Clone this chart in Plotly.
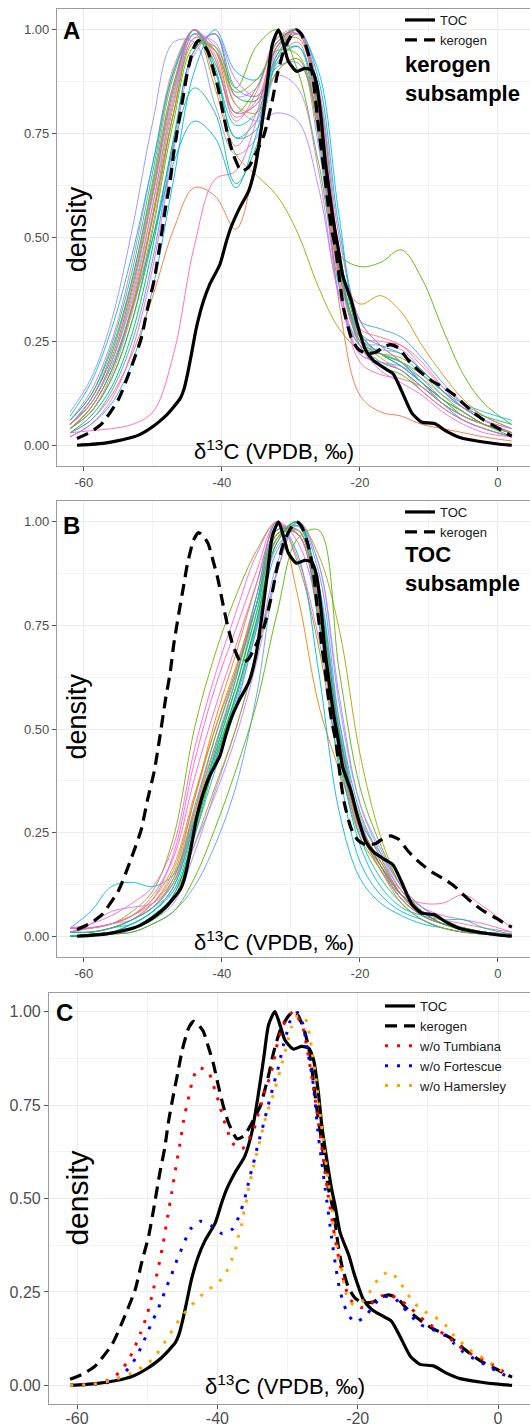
import plotly.graph_objects as go

# ---------------- data ----------------
X_TICK_VALS = [-60, -40, -20, 0]
X_TICK_TEXT = ["-60", "-40", "-20", "0"]
X_MINOR = [-50, -30, -10]
Y_TICK_VALS = [0, 0.25, 0.5, 0.75, 1.0]
Y_TICK_TEXT = ["0.00", "0.25", "0.50", "0.75", "1.00"]
Y_MINOR = [0.125, 0.375, 0.625, 0.875]

TOC_X = [-61, -59, -57, -55, -53, -52, -51, -50, -49, -48, -47, -46, -45.5, -45, -44.4, -43.7, -42.7,
         -41.8, -40.3, -39.4, -38.7, -37.5, -36.1, -35.1, -34.2, -33.4, -32.7, -31.8, -31, -30.4,
         -29.2, -28, -27, -26.3, -25.6, -25.1, -24.4, -23.7, -23.2, -22.5, -21.3, -20.4, -19.2, -18,
         -16.4, -15.2, -14, -12.5, -11.1, -9.2, -7.5, -5.4, -2.6, 0, 2]
TOC_Y = [0.0, 0.002, 0.005, 0.011, 0.019, 0.025, 0.034, 0.045, 0.058, 0.073, 0.092, 0.114, 0.135, 0.17,
         0.221, 0.283, 0.346, 0.386, 0.435, 0.488, 0.524, 0.569, 0.613, 0.676, 0.774, 0.875, 0.965,
         1.0, 0.96, 0.925, 0.90, 0.907, 0.903, 0.872, 0.783, 0.693, 0.604, 0.524, 0.479, 0.408, 0.35,
         0.292, 0.23, 0.203, 0.185, 0.172, 0.132, 0.078, 0.056, 0.052, 0.034, 0.018, 0.009, 0.003, 0.0]

KER_X = [-61, -59, -57.4, -55, -53.2, -51.7, -50.8, -49.8, -49.1, -48.2, -47.5, -47, -46.3, -45.65, -45,
         -44.1, -43.4, -42.7, -42, -41.3, -40.6, -39.9, -39.15, -38.4, -37.2, -36.2, -35.35, -33.9,
         -32.7, -32, -31, -30, -29.2, -28.5, -27.5, -26.8, -26.1, -25.6, -25.1, -24.6, -24.1, -23.5,
         -22.8, -22.3, -21.3, -20.3, -19.2, -17.8, -16.5, -15.6, -14.4, -13, -11.5, -9.5, -8, -6.4,
         -5, -3.5, -2, -0.2, 1, 2]
KER_Y = [0.016, 0.032, 0.052, 0.11, 0.185, 0.257, 0.328, 0.399, 0.47, 0.569, 0.636, 0.702, 0.774, 0.836,
         0.898, 0.956, 0.974, 0.965, 0.947, 0.907, 0.863, 0.805, 0.747, 0.702, 0.66, 0.668, 0.693,
         0.747, 0.83, 0.89, 0.952, 0.985, 1.0, 0.99, 0.943, 0.885, 0.78, 0.711, 0.649, 0.578, 0.52,
         0.471, 0.377, 0.324, 0.261, 0.232, 0.221, 0.223, 0.237, 0.242, 0.234, 0.205, 0.18, 0.154,
         0.14, 0.122, 0.1, 0.078, 0.06, 0.043, 0.031, 0.022]

TUMB_X = [-61, -58, -55.5, -54, -53, -52, -51, -50, -49.2, -48.4, -47.7, -47.1, -46.5, -45.9, -45.3,
          -44.7, -44.3, -43.9, -43.5, -42.7, -41.3, -40.7, -40.1, -39.6, -39.1, -38.5, -37.8, -36.5,
          -35.5, -34.7, -34.2, -33.7, -33.2, -32.6, -32.1, -31.4, -30.7, -30, -29.2, -27.9, -27.2,
          -26.5, -25.7, -25, -24.3, -23.5, -22.9, -21.7, -21, -19.5, -18, -16.5, -15.2, -13.1, -10.4,
          -7.5, -4.6, -1, 1.7]
TUMB_Y = [0.0, 0.003, 0.014, 0.034, 0.058, 0.092, 0.138, 0.19, 0.25, 0.316, 0.383, 0.451, 0.517, 0.585,
          0.652, 0.72, 0.753, 0.787, 0.82, 0.85, 0.84, 0.81, 0.776, 0.744, 0.711, 0.678, 0.647, 0.632,
          0.66, 0.69, 0.724, 0.756, 0.789, 0.821, 0.854, 0.919, 0.96, 0.983, 1.0, 0.963, 0.9, 0.82,
          0.72, 0.62, 0.52, 0.424, 0.359, 0.259, 0.228, 0.208, 0.22, 0.24, 0.24, 0.217, 0.172, 0.134,
          0.092, 0.058, 0.025]

FORT_X = [-61, -58, -55.5, -53.9, -52.7, -51.6, -50.8, -50.1, -49.4, -48.6, -47.9, -47.3, -46.6, -46,
          -45.3, -44.6, -43.8, -42.4, -40.8, -39.3, -37.8, -37, -36.4, -35.9, -35.5, -35.06, -34.6,
          -34.2, -33.7, -33.25, -32.8, -32.35, -31.9, -31.4, -31, -30.6, -30.1, -29.6, -28.55, -27.8,
          -27.2, -26.55, -26.3, -25.6, -25.1, -24.65, -23.7, -23.2, -22.6, -22.1, -21.5, -20.4, -18.9,
          -17.8, -16.5, -14.8, -13.6, -11.1, -9.4, -7.65, -6.3, -4.95, -3.4, -1.9, -0.2, 1.4]
FORT_Y = [0.0, 0.002, 0.008, 0.02, 0.045, 0.074, 0.105, 0.135, 0.166, 0.198, 0.23, 0.261, 0.292, 0.324,
          0.356, 0.388, 0.419, 0.439, 0.426, 0.406, 0.419, 0.449, 0.481, 0.514, 0.548, 0.581, 0.613,
          0.647, 0.679, 0.713, 0.746, 0.778, 0.811, 0.844, 0.877, 0.91, 0.943, 0.976, 0.998, 0.966,
          0.9, 0.834, 0.8, 0.667, 0.595, 0.529, 0.393, 0.326, 0.259, 0.225, 0.194, 0.169, 0.185,
          0.212, 0.237, 0.234, 0.21, 0.163, 0.15, 0.134, 0.112, 0.089, 0.071, 0.056, 0.038, 0.023]

HAM_X = [-61, -58, -55.3, -52.2, -50.55, -49.2, -48.1, -47.1, -46.1, -45.1, -43.9, -42.7, -41.2, -39.8,
         -38.7, -38, -37.4, -37, -36.5, -36.2, -35.8, -35.5, -35.1, -34.7, -34.25, -33.8, -33.4,
         -32.9, -32.3, -31.75, -31.25, -30.8, -30.1, -29.4, -28.5, -27.5, -27, -26.7, -25.9, -25.5,
         -24.8, -24.2, -23.7, -23.4, -23, -22.8, -22.3, -22.05, -21.6, -20.6, -19.2, -18.1, -17.05,
         -15.6, -14.2, -13.3, -12.2, -11, -9.4, -7.8, -6.6, -5.4, -4.1, -2.5, -0.9, 0.5]
HAM_Y = [0.0, 0.002, 0.012, 0.033, 0.051, 0.071, 0.098, 0.127, 0.157, 0.184, 0.21, 0.234, 0.257, 0.276,
         0.304, 0.334, 0.366, 0.399, 0.432, 0.465, 0.5, 0.532, 0.565, 0.598, 0.631, 0.664, 0.697,
         0.73, 0.763, 0.796, 0.829, 0.861, 0.91, 0.961, 0.99, 0.983, 0.952, 0.918, 0.814, 0.747,
         0.64, 0.546, 0.478, 0.413, 0.38, 0.346, 0.313, 0.279, 0.243, 0.215, 0.227, 0.255, 0.285,
         0.304, 0.283, 0.255, 0.227, 0.203, 0.187, 0.168, 0.139, 0.118, 0.096, 0.077, 0.058, 0.038]

# bootstrap density curves (kerogen subsample, panel A), sampled at GRID
GRID = [-62, -59, -56, -53, -50, -47, -44, -41, -38, -35, -32, -29, -26, -23, -20, -17, -14, -11, -8, -5, -2, 2]
A01 = [0.06, 0.12, 0.24, 0.42, 0.66, 0.90, 1.00, 0.90, 0.74, 0.78, 0.93, 0.96, 0.74, 0.38, 0.24, 0.22, 0.20, 0.15, 0.11, 0.08, 0.05, 0.03]
A02 = [0.04, 0.09, 0.18, 0.34, 0.56, 0.82, 0.99, 0.95, 0.80, 0.82, 0.96, 0.98, 0.80, 0.44, 0.26, 0.21, 0.18, 0.14, 0.10, 0.07, 0.05, 0.03]
A03 = [0.03, 0.07, 0.14, 0.27, 0.48, 0.74, 0.95, 0.99, 0.84, 0.83, 0.94, 1.00, 0.85, 0.47, 0.27, 0.22, 0.19, 0.15, 0.11, 0.07, 0.05, 0.02]
A04 = [0.08, 0.16, 0.30, 0.52, 0.78, 0.97, 0.97, 0.82, 0.70, 0.74, 0.90, 0.93, 0.72, 0.36, 0.22, 0.20, 0.19, 0.16, 0.12, 0.09, 0.06, 0.04]
A05 = [0.05, 0.10, 0.20, 0.37, 0.60, 0.85, 1.00, 0.93, 0.78, 0.85, 0.98, 0.99, 0.78, 0.41, 0.28, 0.26, 0.24, 0.19, 0.14, 0.10, 0.07, 0.04]
A06 = [0.02, 0.05, 0.10, 0.20, 0.38, 0.64, 0.90, 1.00, 0.90, 0.88, 0.97, 1.00, 0.88, 0.52, 0.30, 0.24, 0.20, 0.15, 0.10, 0.06, 0.04, 0.02]
A07 = [0.04, 0.08, 0.16, 0.30, 0.52, 0.78, 0.96, 0.96, 0.86, 0.96, 1.00, 0.90, 0.68, 0.46, 0.43, 0.44, 0.47, 0.40, 0.28, 0.17, 0.10, 0.05]
A08 = [0.05, 0.11, 0.22, 0.40, 0.64, 0.89, 1.00, 0.86, 0.70, 0.65, 0.60, 0.51, 0.38, 0.28, 0.23, 0.22, 0.21, 0.17, 0.12, 0.08, 0.05, 0.03]
A09 = [0.03, 0.06, 0.12, 0.22, 0.36, 0.52, 0.62, 0.60, 0.52, 0.70, 0.96, 1.00, 0.78, 0.34, 0.12, 0.08, 0.07, 0.05, 0.04, 0.03, 0.02, 0.01]
A10 = [0.03, 0.035, 0.04, 0.05, 0.08, 0.22, 0.48, 0.64, 0.66, 0.78, 0.95, 1.00, 0.86, 0.50, 0.30, 0.24, 0.20, 0.15, 0.10, 0.07, 0.05, 0.03]
A11 = [0.05, 0.10, 0.19, 0.33, 0.50, 0.68, 0.78, 0.74, 0.62, 0.75, 0.96, 1.00, 0.80, 0.42, 0.26, 0.22, 0.19, 0.15, 0.11, 0.08, 0.05, 0.03]
A12 = [0.04, 0.08, 0.16, 0.30, 0.50, 0.72, 0.86, 0.80, 0.63, 0.72, 0.93, 0.99, 0.82, 0.45, 0.25, 0.20, 0.18, 0.14, 0.10, 0.07, 0.05, 0.03]
A13 = [0.05, 0.10, 0.20, 0.36, 0.58, 0.83, 0.99, 0.96, 0.82, 0.78, 0.80, 0.78, 0.62, 0.36, 0.24, 0.23, 0.22, 0.18, 0.13, 0.09, 0.06, 0.03]
A14 = [0.06, 0.13, 0.25, 0.44, 0.68, 0.91, 1.00, 0.88, 0.72, 0.80, 0.97, 0.99, 0.80, 0.40, 0.20, 0.17, 0.16, 0.14, 0.10, 0.07, 0.05, 0.03]
A15 = [0.03, 0.06, 0.13, 0.25, 0.45, 0.73, 0.95, 0.99, 0.86, 0.84, 0.91, 0.92, 0.78, 0.46, 0.30, 0.28, 0.26, 0.21, 0.15, 0.10, 0.06, 0.03]
A16 = [0.04, 0.09, 0.18, 0.33, 0.55, 0.80, 0.98, 0.95, 0.82, 0.80, 0.90, 0.93, 0.75, 0.42, 0.34, 0.36, 0.32, 0.24, 0.17, 0.11, 0.07, 0.04]
A17 = [0.05, 0.11, 0.21, 0.38, 0.61, 0.86, 1.00, 0.92, 0.80, 0.86, 0.97, 1.00, 0.82, 0.45, 0.24, 0.19, 0.17, 0.13, 0.09, 0.06, 0.04, 0.02]
A18 = [0.07, 0.15, 0.28, 0.46, 0.68, 0.90, 0.99, 0.90, 0.77, 0.80, 0.94, 0.99, 0.90, 0.55, 0.27, 0.22, 0.20, 0.17, 0.13, 0.10, 0.08, 0.06]
A19 = [0.02, 0.05, 0.11, 0.23, 0.43, 0.71, 0.94, 0.99, 0.88, 0.84, 0.93, 0.97, 0.76, 0.39, 0.22, 0.20, 0.18, 0.13, 0.09, 0.06, 0.04, 0.02]
A20 = [0.05, 0.10, 0.20, 0.35, 0.58, 0.84, 1.00, 0.94, 0.80, 0.82, 0.89, 0.86, 0.66, 0.36, 0.25, 0.24, 0.23, 0.18, 0.13, 0.09, 0.06, 0.04]
A21 = [0.04, 0.08, 0.17, 0.32, 0.53, 0.80, 0.98, 0.97, 0.84, 0.86, 0.98, 1.00, 0.84, 0.46, 0.24, 0.18, 0.15, 0.12, 0.08, 0.05, 0.03, 0.02]
A22 = [0.06, 0.12, 0.23, 0.40, 0.63, 0.87, 1.00, 0.91, 0.74, 0.76, 0.92, 0.96, 0.80, 0.43, 0.27, 0.24, 0.22, 0.18, 0.13, 0.09, 0.07, 0.05]
A23 = [0.04, 0.09, 0.18, 0.33, 0.55, 0.80, 0.97, 0.95, 0.85, 0.88, 0.95, 0.94, 0.77, 0.42, 0.25, 0.22, 0.20, 0.16, 0.11, 0.08, 0.05, 0.03]
A24 = [0.05, 0.11, 0.22, 0.39, 0.62, 0.87, 1.00, 0.93, 0.79, 0.83, 0.96, 0.99, 0.79, 0.41, 0.26, 0.25, 0.24, 0.20, 0.14, 0.09, 0.06, 0.03]

# bootstrap density curves (TOC subsample, panel B), sampled at GRID
B01 = [0.01, 0.01, 0.02, 0.04, 0.07, 0.13, 0.30, 0.46, 0.60, 0.80, 0.98, 0.98, 0.80, 0.50, 0.28, 0.17, 0.09, 0.05, 0.03, 0.02, 0.01, 0.005]
B02 = [0.0, 0.005, 0.01, 0.03, 0.06, 0.11, 0.26, 0.42, 0.57, 0.75, 0.95, 1.00, 0.84, 0.52, 0.30, 0.19, 0.10, 0.05, 0.03, 0.015, 0.01, 0.003]
B03 = [0.02, 0.02, 0.03, 0.06, 0.11, 0.24, 0.50, 0.68, 0.82, 0.93, 1.00, 0.90, 0.70, 0.42, 0.24, 0.16, 0.09, 0.05, 0.03, 0.02, 0.01, 0.005]
B04 = [0.02, 0.06, 0.12, 0.13, 0.12, 0.15, 0.28, 0.44, 0.60, 0.78, 0.96, 0.98, 0.76, 0.40, 0.18, 0.10, 0.06, 0.04, 0.02, 0.01, 0.005, 0.0]
B05 = [0.0, 0.0, 0.01, 0.02, 0.04, 0.08, 0.20, 0.35, 0.50, 0.68, 0.90, 1.00, 0.90, 0.58, 0.32, 0.20, 0.11, 0.06, 0.03, 0.02, 0.01, 0.003]
B06 = [0.0, 0.005, 0.01, 0.02, 0.04, 0.09, 0.22, 0.36, 0.50, 0.68, 0.88, 1.00, 0.92, 0.74, 0.44, 0.24, 0.12, 0.06, 0.03, 0.015, 0.01, 0.003]
B07 = [0.01, 0.01, 0.02, 0.04, 0.08, 0.15, 0.33, 0.52, 0.68, 0.85, 1.00, 0.82, 0.56, 0.40, 0.26, 0.18, 0.10, 0.05, 0.03, 0.02, 0.01, 0.005]
B08 = [0.02, 0.02, 0.03, 0.05, 0.08, 0.14, 0.30, 0.48, 0.64, 0.82, 0.98, 0.97, 0.78, 0.47, 0.26, 0.16, 0.10, 0.08, 0.08, 0.10, 0.07, 0.02]
B09 = [0.0, 0.0, 0.005, 0.01, 0.03, 0.06, 0.12, 0.22, 0.36, 0.58, 0.88, 1.00, 0.88, 0.52, 0.28, 0.17, 0.09, 0.05, 0.03, 0.02, 0.01, 0.003]
B10 = [0.0, 0.005, 0.01, 0.02, 0.04, 0.09, 0.24, 0.42, 0.58, 0.76, 0.96, 1.00, 0.82, 0.46, 0.26, 0.17, 0.10, 0.06, 0.03, 0.02, 0.01, 0.003]
B11 = [0.0, 0.005, 0.01, 0.03, 0.06, 0.12, 0.28, 0.45, 0.62, 0.82, 1.00, 0.92, 0.64, 0.30, 0.14, 0.08, 0.05, 0.03, 0.02, 0.01, 0.005, 0.0]
B12 = [0.01, 0.03, 0.06, 0.07, 0.08, 0.13, 0.27, 0.42, 0.56, 0.74, 0.94, 0.98, 0.80, 0.48, 0.27, 0.18, 0.10, 0.06, 0.04, 0.02, 0.01, 0.005]
B13 = [0.02, 0.02, 0.03, 0.05, 0.09, 0.20, 0.42, 0.60, 0.74, 0.88, 1.00, 0.95, 0.78, 0.46, 0.26, 0.16, 0.09, 0.05, 0.03, 0.02, 0.01, 0.004]
B14 = [0.01, 0.01, 0.02, 0.04, 0.08, 0.16, 0.33, 0.50, 0.65, 0.80, 0.96, 0.99, 0.82, 0.49, 0.29, 0.19, 0.11, 0.06, 0.04, 0.03, 0.02, 0.01]
B15 = [0.0, 0.0, 0.005, 0.01, 0.03, 0.06, 0.14, 0.26, 0.40, 0.56, 0.78, 0.96, 0.98, 0.64, 0.36, 0.22, 0.12, 0.06, 0.03, 0.02, 0.01, 0.003]
B16 = [0.01, 0.01, 0.02, 0.03, 0.06, 0.12, 0.27, 0.44, 0.60, 0.78, 0.97, 0.99, 0.80, 0.46, 0.24, 0.14, 0.08, 0.04, 0.02, 0.01, 0.005, 0.0]
B17 = [0.01, 0.02, 0.03, 0.05, 0.09, 0.17, 0.34, 0.50, 0.64, 0.80, 0.97, 0.97, 0.77, 0.45, 0.27, 0.18, 0.10, 0.06, 0.04, 0.02, 0.01, 0.005]
B18 = [0.02, 0.03, 0.05, 0.08, 0.12, 0.22, 0.45, 0.63, 0.78, 0.92, 1.00, 0.91, 0.72, 0.44, 0.25, 0.17, 0.11, 0.07, 0.05, 0.04, 0.03, 0.01]
B19 = [0.0, 0.005, 0.01, 0.02, 0.05, 0.10, 0.24, 0.40, 0.55, 0.74, 0.93, 0.99, 0.85, 0.50, 0.28, 0.20, 0.12, 0.07, 0.04, 0.02, 0.01, 0.003]
B20 = [0.01, 0.01, 0.02, 0.04, 0.07, 0.13, 0.29, 0.46, 0.62, 0.80, 0.97, 0.98, 0.79, 0.47, 0.26, 0.16, 0.08, 0.04, 0.02, 0.01, 0.005, 0.002]
B21 = [0.01, 0.02, 0.03, 0.04, 0.07, 0.11, 0.22, 0.34, 0.48, 0.66, 0.88, 1.00, 0.90, 0.56, 0.32, 0.21, 0.12, 0.07, 0.04, 0.02, 0.01, 0.004]
B22 = [0.01, 0.01, 0.02, 0.04, 0.07, 0.14, 0.31, 0.48, 0.63, 0.80, 0.98, 0.97, 0.76, 0.44, 0.22, 0.12, 0.07, 0.05, 0.04, 0.04, 0.02, 0.005]
B23 = [0.02, 0.02, 0.03, 0.05, 0.10, 0.19, 0.38, 0.55, 0.70, 0.85, 0.99, 0.97, 0.80, 0.47, 0.27, 0.17, 0.10, 0.06, 0.03, 0.02, 0.01, 0.004]
B24 = [0.0, 0.0, 0.01, 0.02, 0.05, 0.10, 0.25, 0.43, 0.58, 0.76, 0.95, 1.00, 0.83, 0.49, 0.27, 0.17, 0.10, 0.06, 0.03, 0.02, 0.01, 0.003]

BOOT_A = [A01, A02, A03, A04, A05, A06, A07, A08, A09, A10, A11, A12,
          A13, A14, A15, A16, A17, A18, A19, A20, A21, A22, A23, A24]
BOOT_B = [B01, B02, B03, B04, B05, B06, B07, B08, B09, B10, B11, B12,
          B13, B14, B15, B16, B17, B18, B19, B20, B21, B22, B23, B24]

# ---------------- styles ----------------
COLORS_A = ["#00BFC4", "#C09B00", "#00BA38", "#9590FF", "#F8766D", "#00B0F6", "#53B400", "#A3A500",
            "#F0733E", "#FF62BC", "#00A9FF", "#00BF7D", "#B385FF", "#FF6C91", "#35A2FF", "#D89000",
            "#39B600", "#00C1E0", "#FA62DB", "#C77CFF", "#E76BF3", "#00C1A3", "#7CAE00", "#FF61C3"]
COLORS_B = ["#F8766D", "#00BFC4", "#7CAE00", "#00B8E7", "#9590FF", "#A3A500", "#E58700", "#FF6C91",
            "#619CFF", "#39B600", "#00B0F6", "#C77CFF", "#FF62BC", "#F8766D", "#53B400", "#00C1A3",
            "#D89000", "#FA62DB", "#35A2FF", "#C09B00", "#B385FF", "#00BFC4", "#FF61C3", "#00BA38"]

FONT = "Liberation Sans, Arial, Helvetica, sans-serif"
TICK_COLOR = "#4D4D4D"
GRID_COLOR = "#EBEBEB"
BORDER = "#9A9A9A"
DASH = "12px,7px"
DOT = "3px,9px"

H = 1424.0
W = 530.0

fig = go.Figure()

def boot_traces(curves, colors, xa, ya):
    for vals, col in zip(curves, colors):
        fig.add_trace(go.Scatter(x=GRID, y=vals, xaxis=xa, yaxis=ya, mode="lines",
                                 line=dict(color=col, width=0.9, shape="spline", smoothing=1.0),
                                 showlegend=False, hoverinfo="skip"))

def black_traces(xa, ya, legend, show):
    fig.add_trace(go.Scatter(x=KER_X, y=KER_Y, xaxis=xa, yaxis=ya, mode="lines", name="kerogen",
                             line=dict(color="black", width=3.2, dash=DASH, shape="spline", smoothing=0.6),
                             showlegend=show, legend=legend, legendrank=2))
    fig.add_trace(go.Scatter(x=TOC_X, y=TOC_Y, xaxis=xa, yaxis=ya, mode="lines", name="TOC",
                             line=dict(color="black", width=3.2, shape="spline", smoothing=0.6),
                             showlegend=show, legend=legend, legendrank=1))

boot_traces(BOOT_A, COLORS_A, "x", "y")
black_traces("x", "y", "legend", True)
boot_traces(BOOT_B, COLORS_B, "x2", "y2")
black_traces("x2", "y2", "legend2", True)
black_traces("x3", "y3", "legend3", True)
for xs, ys, col, nm, rk in [(TUMB_X, TUMB_Y, "#FF0000", "w/o Tumbiana", 3),
                            (FORT_X, FORT_Y, "#0000FF", "w/o Fortescue", 4),
                            (HAM_X, HAM_Y, "#FFA500", "w/o Hamersley", 5)]:
    fig.add_trace(go.Scatter(x=xs, y=ys, xaxis="x3", yaxis="y3", mode="lines", name=nm,
                             line=dict(color=col, width=3, dash=DOT, shape="spline", smoothing=0.6),
                             legend="legend3", legendrank=rk))

def xaxis(domain, rng, anchor, fs, standoff=0):
    return dict(domain=domain, range=rng, anchor=anchor, tickvals=X_TICK_VALS, ticktext=X_TICK_TEXT,
                showgrid=True, gridcolor=GRID_COLOR, gridwidth=1, zeroline=False,
                showline=True, linecolor=BORDER, linewidth=1.2, mirror=True,
                ticks="outside", ticklen=4, tickcolor="#555555", tickwidth=1,
                ticklabelstandoff=standoff,
                tickfont=dict(family=FONT, size=fs, color=TICK_COLOR),
                minor=dict(tickvals=X_MINOR, showgrid=True, gridcolor="#F3F3F3", gridwidth=0.7, ticks=""),
                automargin=False, fixedrange=True)

def yaxis(domain, anchor, fs):
    return dict(domain=domain, range=[-0.05, 1.05], anchor=anchor, tickvals=Y_TICK_VALS, ticktext=Y_TICK_TEXT,
                showgrid=True, gridcolor=GRID_COLOR, gridwidth=1, zeroline=False,
                showline=True, linecolor=BORDER, linewidth=1.2, mirror=True,
                ticks="outside", ticklen=4, tickcolor="#555555", tickwidth=1,
                tickfont=dict(family=FONT, size=fs, color=TICK_COLOR),
                minor=dict(tickvals=Y_MINOR, showgrid=True, gridcolor="#F3F3F3", gridwidth=0.7, ticks=""),
                automargin=False, fixedrange=True)

def ydom(top_px, bot_px):
    return [1 - bot_px / H, 1 - top_px / H]

ann = []
def text(x, y, t, xr, yr, size, bold=False, angle=0, xanchor="center", yanchor="middle"):
    ann.append(dict(x=x, y=y, xref=xr, yref=yr, text=("<b>%s</b>" % t) if bold else t,
                    showarrow=False, textangle=angle, xanchor=xanchor, yanchor=yanchor, align="left",
                    font=dict(family=FONT, size=size, color="black")))

DELTA = "δ<sup>13</sup>C (VPDB, ‰)"
# Panel A
text(-63.3, 0.998, "A", "x", "y", 24, bold=True, xanchor="left")
text(-61.0, 0.52, "density", "x", "y", 27, angle=-90)
text(-32.5, -0.012, DELTA, "x", "y", 22)
text(-13.7, 0.882, "kerogen<br>subsample", "x", "y", 22, bold=True, xanchor="left")
# Panel B
text(-63.3, 0.99, "B", "x2", "y2", 24, bold=True, xanchor="left")
text(-61.0, 0.53, "density", "x2", "y2", 27, angle=-90)
text(-32.5, -0.012, DELTA, "x2", "y2", 22)
text(-13.7, 0.887, "TOC<br>subsample", "x2", "y2", 22, bold=True, xanchor="left")
# Panel C
text(-63.3, 0.997, "C", "x3", "y3", 24, bold=True, xanchor="left")
text(-60.0, 0.50, "density", "x3", "y3", 30, angle=-90)
text(-30.4, 0.0, DELTA, "x3", "y3", 22)

leg_common = dict(bgcolor="rgba(0,0,0,0)", borderwidth=0, xanchor="left", yanchor="top",
                  tracegroupgap=0, itemclick=False, itemdoubleclick=False)

fig.update_layout(
    width=530, height=1424, autosize=False,
    margin=dict(l=0, r=0, t=0, b=0, pad=0),
    paper_bgcolor="white", plot_bgcolor="white",
    font=dict(family=FONT),
    xaxis=xaxis([57 / W, 1.0], [-63.9, 4.64], "y", 13),
    yaxis=yaxis(ydom(9, 466), "x", 13),
    xaxis2=xaxis([57 / W, 1.0], [-63.9, 4.64], "y2", 13),
    yaxis2=yaxis(ydom(501, 957), "x2", 13),
    xaxis3=xaxis([49 / W, 1.0], [-64.0, 4.56], "y3", 16, standoff=-4),
    yaxis3=yaxis(ydom(993, 1404), "x3", 16),
    legend=dict(x=400 / W, y=1 - 5 / H, font=dict(family=FONT, size=13, color="#1a1a1a"), **leg_common),
    legend2=dict(x=400 / W, y=1 - 497 / H, font=dict(family=FONT, size=13, color="#1a1a1a"), **leg_common),
    legend3=dict(x=380 / W, y=1 - 991 / H, font=dict(family=FONT, size=13, color="#1a1a1a"), **leg_common),
    annotations=ann,
    showlegend=True,
)

fig.write_html("out.html")
